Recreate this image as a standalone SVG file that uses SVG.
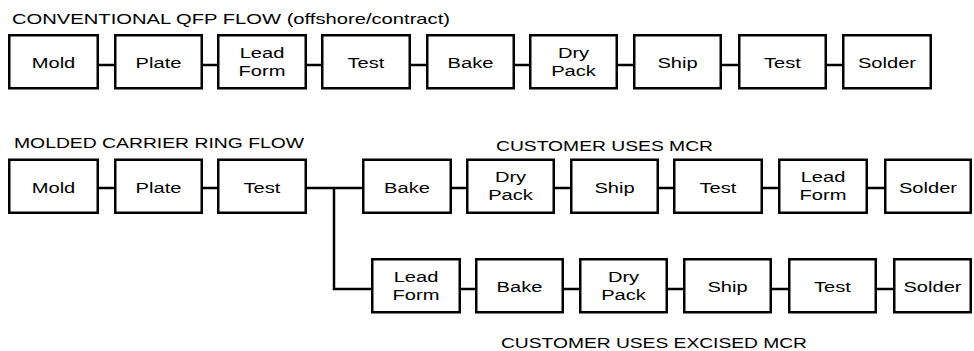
<svg xmlns="http://www.w3.org/2000/svg" width="974" height="351" viewBox="0 0 974 351">
<style>
.box{fill:#fff;stroke:#000;stroke-width:2.5}
.con{fill:none;stroke:#000;stroke-width:2.5}
.lbl{font-family:"Liberation Sans",Arial,sans-serif;font-size:15px;text-anchor:middle;fill:#000}
.ttl{font-family:"Liberation Sans",Arial,sans-serif;font-size:14.5px;fill:#000}
</style>
<rect width="974" height="351" fill="#fff"/>
<g id="titles">
<text class="ttl" x="12" y="24" textLength="438" lengthAdjust="spacingAndGlyphs">CONVENTIONAL QFP FLOW (offshore/contract)</text>
<text class="ttl" x="14" y="148" textLength="290" lengthAdjust="spacingAndGlyphs">MOLDED CARRIER RING FLOW</text>
<text class="ttl" x="496" y="150.5" textLength="217" lengthAdjust="spacingAndGlyphs">CUSTOMER USES MCR</text>
<text class="ttl" x="501" y="348" textLength="306" lengthAdjust="spacingAndGlyphs">CUSTOMER USES EXCISED MCR</text>
</g>
<g id="connectors">
<path class="con" d="M99 65H114M203 65H217M307 65H321M411 65H426M515 65H529M618 65H633M722 65H738M827 65H842"/>
<path class="con" d="M99 188H114M203 188H217M307 188H362M452 188H466M555 188H570M659 188H673M763 188H778M868 188H884"/>
<path class="con" d="M334 188V289H371"/>
<path class="con" d="M461 289H475M564 289H579M668 289H683M772 289H788M877 289H893"/>
</g>
<!-- Row 1 -->
<g id="r1_mold"><rect class="box" x="9.25" y="35.25" width="88.5" height="53"/><text class="lbl" transform="translate(53.5 68) scale(1.34 1)">Mold</text></g>
<g id="r1_plate"><rect class="box" x="115.25" y="35.25" width="86.5" height="53"/><text class="lbl" transform="translate(158.5 68) scale(1.34 1)">Plate</text></g>
<g id="r1_leadform"><rect class="box" x="218.25" y="35.25" width="87.5" height="53"/><text class="lbl" transform="translate(262 57.5) scale(1.34 1)">Lead</text><text class="lbl" transform="translate(262 75.5) scale(1.34 1)">Form</text></g>
<g id="r1_test"><rect class="box" x="322.25" y="35.25" width="87.5" height="53"/><text class="lbl" transform="translate(366 68) scale(1.34 1)">Test</text></g>
<g id="r1_bake"><rect class="box" x="427.25" y="35.25" width="86.5" height="53"/><text class="lbl" transform="translate(470.5 68) scale(1.34 1)">Bake</text></g>
<g id="r1_drypack"><rect class="box" x="530.25" y="35.25" width="86.5" height="53"/><text class="lbl" transform="translate(573.5 57.5) scale(1.34 1)">Dry</text><text class="lbl" transform="translate(573.5 75.5) scale(1.34 1)">Pack</text></g>
<g id="r1_ship"><rect class="box" x="634.25" y="35.25" width="86.5" height="53"/><text class="lbl" transform="translate(677.5 68) scale(1.34 1)">Ship</text></g>
<g id="r1_test2"><rect class="box" x="739.25" y="35.25" width="86.5" height="53"/><text class="lbl" transform="translate(782.5 68) scale(1.34 1)">Test</text></g>
<g id="r1_solder"><rect class="box" x="843.25" y="35.25" width="87.5" height="53"/><text class="lbl" transform="translate(887 68) scale(1.34 1)">Solder</text></g>
<!-- Row 2 -->
<g id="r2_mold"><rect class="box" x="9.25" y="159.75" width="88.5" height="53"/><text class="lbl" transform="translate(53.5 192.5) scale(1.34 1)">Mold</text></g>
<g id="r2_plate"><rect class="box" x="115.25" y="159.75" width="86.5" height="53"/><text class="lbl" transform="translate(158.5 192.5) scale(1.34 1)">Plate</text></g>
<g id="r2_test"><rect class="box" x="218.25" y="159.75" width="87.5" height="53"/><text class="lbl" transform="translate(262 192.5) scale(1.34 1)">Test</text></g>
<g id="r2_bake"><rect class="box" x="363.25" y="159.75" width="87.5" height="53"/><text class="lbl" transform="translate(407 192.5) scale(1.34 1)">Bake</text></g>
<g id="r2_drypack"><rect class="box" x="467.25" y="159.75" width="86.5" height="53"/><text class="lbl" transform="translate(510.5 182) scale(1.34 1)">Dry</text><text class="lbl" transform="translate(510.5 200) scale(1.34 1)">Pack</text></g>
<g id="r2_ship"><rect class="box" x="571.25" y="159.75" width="86.5" height="53"/><text class="lbl" transform="translate(614.5 192.5) scale(1.34 1)">Ship</text></g>
<g id="r2_test2"><rect class="box" x="674.25" y="159.75" width="87.5" height="53"/><text class="lbl" transform="translate(718 192.5) scale(1.34 1)">Test</text></g>
<g id="r2_leadform"><rect class="box" x="779.25" y="159.75" width="87.5" height="53"/><text class="lbl" transform="translate(823 182) scale(1.34 1)">Lead</text><text class="lbl" transform="translate(823 200) scale(1.34 1)">Form</text></g>
<g id="r2_solder"><rect class="box" x="885.25" y="159.75" width="85.5" height="53"/><text class="lbl" transform="translate(928 192.5) scale(1.34 1)">Solder</text></g>
<!-- Row 3 -->
<g id="r3_leadform"><rect class="box" x="372.25" y="259.25" width="87.5" height="53"/><text class="lbl" transform="translate(416 281.5) scale(1.34 1)">Lead</text><text class="lbl" transform="translate(416 299.5) scale(1.34 1)">Form</text></g>
<g id="r3_bake"><rect class="box" x="476.25" y="259.25" width="86.5" height="53"/><text class="lbl" transform="translate(519.5 292) scale(1.34 1)">Bake</text></g>
<g id="r3_drypack"><rect class="box" x="580.25" y="259.25" width="86.5" height="53"/><text class="lbl" transform="translate(623.5 281.5) scale(1.34 1)">Dry</text><text class="lbl" transform="translate(623.5 299.5) scale(1.34 1)">Pack</text></g>
<g id="r3_ship"><rect class="box" x="684.25" y="259.25" width="86.5" height="53"/><text class="lbl" transform="translate(727.5 292) scale(1.34 1)">Ship</text></g>
<g id="r3_test"><rect class="box" x="789.25" y="259.25" width="86.5" height="53"/><text class="lbl" transform="translate(832.5 292) scale(1.34 1)">Test</text></g>
<g id="r3_solder"><rect class="box" x="894.25" y="259.25" width="76.5" height="53"/><text class="lbl" transform="translate(932.5 292) scale(1.34 1)">Solder</text></g>
</svg>
